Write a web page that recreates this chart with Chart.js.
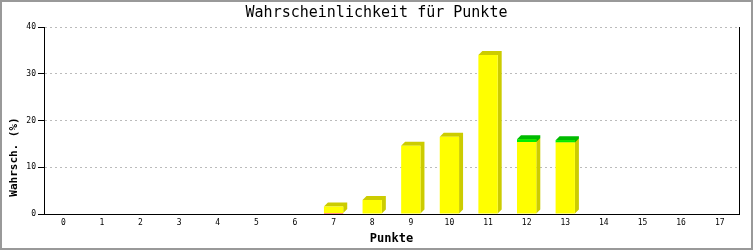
<!DOCTYPE html>
<html>
<head>
<meta charset="utf-8">
<script src="https://cdn.jsdelivr.net/npm/chart.js@4/dist/chart.umd.min.js"></script>
<style>
  html, body { margin: 0; padding: 0; background: #fff; }
  #wrap { width: 753px; height: 250px; }
</style>
</head>
<body>
<div id="wrap"><canvas id="chart" width="753" height="250"></canvas></div>
<script>
// Punkte 0..17
const punkte = ['0','1','2','3','4','5','6','7','8','9','10','11','12','13','14','15','16','17'];
// Wahrscheinlichkeit (%) per Punktzahl, split into coloured parts
const rot  = [0,0,0,0,0,0,0,0.2,0,0,0,0,0,0,0,0,0,0];
const gelb = [0,0,0,0,0,0,0,1.4,3.0,14.6,16.5,34.0,15.4,15.3,0,0,0,0];
const gruen = [0,0,0,0,0,0,0,0,0,0,0,0,0.6,0.5,0,0,0,0];
const yTicks = [0, 10, 20, 30, 40];
const yTitle = 'Wahrsch. (%)';

const mono = '"DejaVu Sans Mono", monospace';
const DEPTH = 4;

// draws the 3d side/top of every bar before the front faces
const depthPlugin = {
  id: 'depth',
  beforeDatasetsDraw(chart) {
    const ctx = chart.ctx;
    chart.data.datasets.forEach((ds, i) => {
      const meta = chart.getDatasetMeta(i);
      meta.data.forEach(bar => {
        const p = bar.getProps(['x', 'y', 'base', 'width'], true);
        if (Math.abs(p.base - p.y) < 0.5) return;
        const l = p.x - p.width / 2, r = p.x + p.width / 2;
        const t = Math.min(p.y, p.base), b = Math.max(p.y, p.base);
        ctx.save();
        ctx.fillStyle = ds.depthColor;
        ctx.beginPath();
        ctx.moveTo(l, t);
        ctx.lineTo(l + DEPTH, t - DEPTH);
        ctx.lineTo(r + DEPTH, t - DEPTH);
        ctx.lineTo(r + DEPTH, b - DEPTH);
        ctx.lineTo(r, b);
        ctx.lineTo(r, t);
        ctx.closePath();
        ctx.fill();
        ctx.restore();
      });
    });
  }
};

// y axis title sits low, below the middle of the axis
const yTitlePlugin = {
  id: 'ytitle',
  afterDraw(chart) {
    const ctx = chart.ctx;
    const area = chart.chartArea;
    ctx.save();
    ctx.translate(14, area.bottom - 57);
    ctx.rotate(-Math.PI / 2);
    ctx.font = 'bold 11px ' + mono;
    ctx.fillStyle = '#000';
    ctx.textAlign = 'center';
    ctx.textBaseline = 'middle';
    ctx.fillText(yTitle, 0, 0);
    ctx.restore();
  }
};

const framePlugin = {
  id: 'frame',
  afterDraw(chart) {
    const ctx = chart.ctx;
    ctx.save();
    ctx.strokeStyle = '#999';
    ctx.lineWidth = 2;
    ctx.strokeRect(1, 1, chart.width - 2, chart.height - 2);
    ctx.restore();
  }
};

new Chart(document.getElementById('chart'), {
  type: 'bar',
  data: {
    labels: punkte,
    datasets: [
      { data: rot, backgroundColor: '#ff0000', depthColor: '#cc0000' },
      { data: gelb, backgroundColor: '#ffff00', depthColor: '#cccc00' },
      { data: gruen, backgroundColor: '#00ee00', depthColor: '#00bb00' }
    ]
  },
  options: {
    responsive: false,
    animation: false,
    events: [],
    datasets: { bar: { categoryPercentage: 1, barPercentage: 0.5, borderWidth: 0 } },
    plugins: {
      legend: { display: false },
      tooltip: { enabled: false },
      title: {
        display: true,
        text: 'Wahrscheinlichkeit für Punkte',
        color: '#000',
        font: { family: mono, size: 15, weight: 'normal', lineHeight: 1.2 },
        padding: { top: 4, bottom: 5 }
      }
    },
    scales: {
      x: {
        stacked: true,
        grid: { display: false, drawTicks: false },
        border: { display: true, color: '#000', width: 1 },
        ticks: { color: '#000', font: { family: mono, size: 8 }, padding: 4, maxRotation: 0, autoSkip: false },
        title: {
          display: true, text: 'Punkte', color: '#000',
          font: { family: mono, size: 12, weight: 'bold' },
          padding: { top: 4, bottom: 4 }
        },
        afterFit(scale) { scale.height = 36; }
      },
      y: {
        stacked: true,
        min: 0, max: 40,
        afterBuildTicks(scale) { scale.ticks = yTicks.map(v => ({ value: v })); },
        grid: {
          color: '#bbb', lineWidth: 1,
          tickColor: '#000', tickBorderDash: [], tickLength: 6
        },
        border: { display: true, color: '#000', width: 1, dash: [2, 3] },
        ticks: { color: '#000', font: { family: mono, size: 8 }, padding: 2 },
        afterFit(scale) { scale.width = 44; }
      },
      y2: {
        position: 'right',
        min: 0, max: 40,
        grid: { drawOnChartArea: false, drawTicks: false },
        border: { display: true, color: '#000', width: 1 },
        ticks: { display: false },
        afterFit(scale) { scale.width = 14; }
      }
    }
  },
  plugins: [depthPlugin, yTitlePlugin, framePlugin]
});
</script>
</body>
</html>
